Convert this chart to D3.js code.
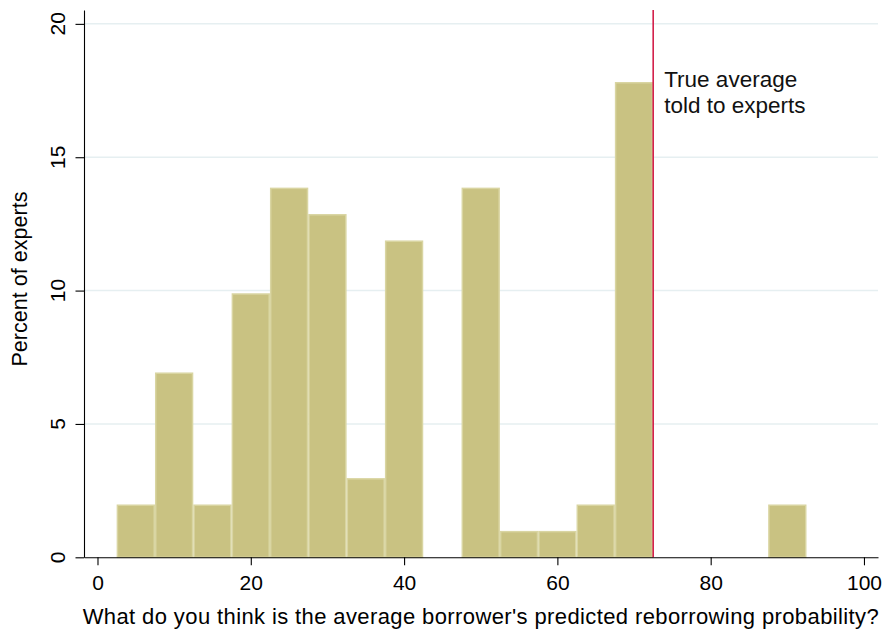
<!DOCTYPE html>
<html>
<head>
<meta charset="utf-8">
<script src="https://cdn.jsdelivr.net/npm/d3@7"></script>
<style>
  html, body { margin: 0; padding: 0; background: #fff; }
  svg { display: block; font-family: "Liberation Sans", Arial, Helvetica, sans-serif; }
</style>
</head>
<body>
<svg id="chart" width="886" height="630"></svg>
<script>
// ---- data ----
const binStarts = [2.5, 7.5, 12.5, 17.5, 22.5, 27.5, 32.5, 37.5, 42.5, 47.5, 52.5, 57.5, 62.5, 67.5, 72.5, 77.5, 82.5, 87.5];
const binWidth = 5;
const percentValues = [1.98, 6.93, 1.98, 9.90, 13.86, 12.87, 2.97, 11.88, 0, 13.86, 0.99, 0.99, 1.98, 17.82, 0, 0, 0, 1.98];
const xTicks = [0, 20, 40, 60, 80, 100];
const yTicks = [0, 5, 10, 15, 20];
const trueAverage = 72.5;
const annotationLines = ["True average", "told to experts"];
const xTitle = "What do you think is the average borrower's predicted reborrowing probability?";
const yTitle = "Percent of experts";

(function () {
// ---- layout ----
const svg = d3.select("#chart");
const pLeft = 84, pRight = 878, pTop = 10, pBottom = 557.3;

const x = d3.scaleLinear().domain([-1.76, 101.83]).range([pLeft, pRight]);
const y = d3.scaleLinear().domain([0, 20.52]).range([pBottom, pTop]);

// grid
svg.append("g").selectAll("line")
  .data(yTicks.filter(d => d > 0))
  .join("line")
  .attr("x1", pLeft).attr("x2", pRight)
  .attr("y1", d => y(d)).attr("y2", d => y(d))
  .attr("stroke", "#e6eff1").attr("stroke-width", 1.5);

// bars
const bins = binStarts.map((s, i) => ({ x0: s, x1: s + binWidth, v: percentValues[i] })).filter(d => d.v > 0);
svg.append("g").selectAll("rect")
  .data(bins)
  .join("rect")
  .attr("x", d => x(d.x0) + 0.75)
  .attr("width", d => x(d.x1) - x(d.x0) - 1.5)
  .attr("y", d => y(d.v) + 0.75)
  .attr("height", d => y(0) - y(d.v) - 0.75)
  .attr("fill", "#c9c282")
  .attr("stroke", "#d9d5a2")
  .attr("stroke-width", 1.5);

// red reference line
svg.append("line")
  .attr("x1", x(trueAverage)).attr("x2", x(trueAverage))
  .attr("y1", y(0)).attr("y2", pTop)
  .attr("stroke", "#d3204b").attr("stroke-width", 1.6);

// annotation
svg.append("text")
  .attr("x", x(trueAverage) + 11)
  .attr("y", 87)
  .attr("font-size", 22.5)
  .attr("fill", "#111")
  .selectAll("tspan")
  .data(annotationLines)
  .join("tspan")
  .attr("x", x(trueAverage) + 11)
  .attr("dy", (d, i) => i === 0 ? 0 : 25.5)
  .text(d => d);

// x axis
const xAxis = svg.append("g")
  .attr("transform", `translate(0,${pBottom})`)
  .call(d3.axisBottom(x).tickValues(xTicks).tickSize(8).tickPadding(10).tickSizeOuter(0));
xAxis.attr("font-family", null).attr("font-size", null);
xAxis.select(".domain").attr("stroke", "#000").attr("stroke-width", 1.1);
xAxis.selectAll(".tick line").attr("stroke", "#000").attr("stroke-width", 1.1);
xAxis.selectAll(".tick text").attr("font-size", 21).attr("fill", "#000");

// y axis
const yAxis = svg.append("g")
  .attr("transform", `translate(${pLeft},0)`)
  .call(d3.axisLeft(y).tickValues(yTicks).tickSize(8.5).tickSizeOuter(0).tickFormat(""));
yAxis.select(".domain").attr("stroke", "#000").attr("stroke-width", 1.1);
yAxis.selectAll(".tick line").attr("stroke", "#000").attr("stroke-width", 1.1);

svg.append("g").selectAll("text")
  .data(yTicks)
  .join("text")
  .attr("transform", d => `translate(65,${y(d)}) rotate(-90)`)
  .attr("text-anchor", "middle")
  .attr("font-size", 21)
  .attr("fill", "#000")
  .text(d => d);

// titles
svg.append("text")
  .attr("x", 82.7)
  .attr("y", 623.5)
  .attr("font-size", 22)
  .attr("textLength", 796)
  .attr("lengthAdjust", "spacing")
  .attr("fill", "#000")
  .text(xTitle);

svg.append("text")
  .attr("transform", `translate(27,366.5) rotate(-90)`)
  .attr("font-size", 21.5)
  .attr("textLength", 175)
  .attr("lengthAdjust", "spacing")
  .attr("fill", "#000")
  .text(yTitle);
})();
</script>
</body>
</html>
